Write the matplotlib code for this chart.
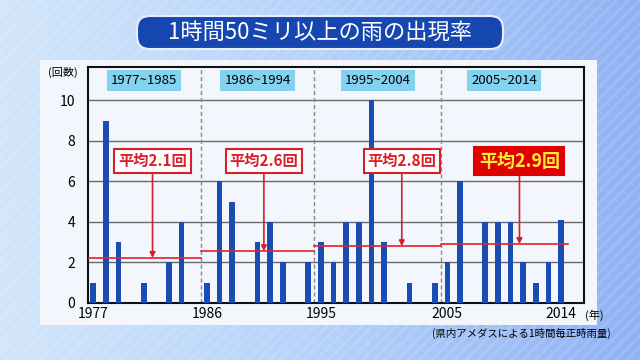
import numpy as np
import matplotlib
matplotlib.use('Agg')
import matplotlib.pyplot as plt
from matplotlib.patches import FancyBboxPatch, Rectangle

plt.rcParams['font.family'] = ['Noto Sans CJK JP', 'DejaVu Sans']

# data
years = list(range(1977, 2015))
counts = [1, 9, 3, 0, 1, 0, 2, 4, 0,        # 1977-1985
          1, 6, 5, 0, 3, 4, 2, 0, 2,        # 1986-1994
          3, 2, 4, 4, 10, 3, 0, 1, 0, 1,    # 1995-2004
          2, 6, 0, 4, 4, 4, 2, 1, 2, 4.1]   # 2005-2014
periods = [(1977, 1985), (1986, 1994), (1995, 2004), (2005, 2014)]
period_labels = ['1977~1985', '1986~1994', '1995~2004', '2005~2014']
avg_labels = ['平均2.1回', '平均2.6回', '平均2.8回', '平均2.9回']
xticks = [1977, 1986, 1995, 2005, 2014]
xticklabels = ['1977', '1986', '1995', '2005', '2014']

fig = plt.figure(figsize=(6.4, 3.6), dpi=100)

# background gradient with faint diagonal stripes
bg = fig.add_axes([0, 0, 1, 1])
grad = np.linspace(0, 1, 256).reshape(1, -1)
cmap = matplotlib.colors.LinearSegmentedColormap.from_list('bg', ['#d2e6fb', '#b5d2fa', '#8fb2f4'])
bg.imshow(grad, aspect='auto', cmap=cmap, extent=[0, 1, 0, 1])
for s in np.arange(-1, 2, 0.018):
    bg.plot([s, s + 0.56], [0, 1], color='white', alpha=0.12, lw=2)
bg.set_xlim(0, 1)
bg.set_ylim(0, 1)
bg.set_axis_off()
bg.add_patch(Rectangle((40 / 640, 1 - 325 / 360), 557 / 640, 265 / 360,
                       facecolor='#f3f6fc', edgecolor='none', transform=bg.transAxes, zorder=5))

ax = fig.add_axes([88 / 640, 1 - 303 / 360, 496 / 640, 236 / 360])
ax.set_facecolor('#f3f6fc')
ax.bar(years, counts, width=0.45, color='#1a4db3', zorder=3)
ax.set_xlim(1976.6, 2015.8)
ax.set_ylim(0, 11.65)
ax.set_yticks([0, 2, 4, 6, 8, 10])
ax.set_yticklabels(['0', '2', '4', '6', '8', '10'], fontsize=10)
ax.yaxis.grid(True, color='#6a6a6a', linewidth=1, zorder=1)
ax.tick_params(axis='y', length=0, pad=9)
ax.set_xticks(xticks)
ax.set_xticklabels(xticklabels, fontsize=10)
ax.tick_params(axis='x', length=0, pad=3)
for sp in ax.spines.values():
    sp.set_color('#111111')
    sp.set_linewidth(1.5)

for i, (a, b) in enumerate(periods):
    vals = [c for y, c in zip(years, counts) if a <= y <= b]
    m = np.mean(vals)
    ax.plot([a - 0.5, b + 0.5], [m, m], color='#e3202a', lw=1.2, zorder=4)
    if i > 0:
        ax.axvline(a - 0.5, color='#888888', lw=1, ls=(0, (3, 2)), zorder=2)
    ax.text((a + b) / 2, 11.0, period_labels[i], ha='center', va='center', fontsize=9.5,
            bbox=dict(boxstyle='square,pad=0.3', facecolor='#82d2f0', edgecolor='none'), zorder=5)

arrow_x = [1981.7, 1990.5, 2001.4, 2010.7]
for i, (a, b) in enumerate(periods):
    vals = [c for y, c in zip(years, counts) if a <= y <= b]
    m = np.mean(vals)
    if i < 3:
        style = dict(color='#d81e28', fontsize=11, fontweight='bold',
                     bbox=dict(boxstyle='square,pad=0.25', facecolor='white', edgecolor='#d81e28', lw=1.5))
    else:
        style = dict(color='#ffee33', fontsize=13, fontweight='bold',
                     bbox=dict(boxstyle='square,pad=0.25', facecolor='#e00000', edgecolor='#e00000', lw=1.5))
    ax.annotate(avg_labels[i], xy=(arrow_x[i], m), xytext=(arrow_x[i], 7.0),
                ha='center', va='center', zorder=6,
                arrowprops=dict(arrowstyle='-|>', color='#d81e28', lw=1.2, mutation_scale=8,
                                shrinkA=0, shrinkB=0), **style)

fig.text(48 / 640, 1 - 72 / 360, '(回数)', fontsize=8, ha='left', va='center')
fig.text(585 / 640, 1 - 315 / 360, '(年)', fontsize=8, ha='left', va='center')
fig.text(611 / 640, 1 - 333 / 360, '(県内アメダスによる1時間毎正時雨量)', fontsize=7.5,
         ha='right', va='center')

# title
bg.add_patch(FancyBboxPatch((137 / 640, 1 - 49 / 360), 366 / 640, 33 / 360,
                            boxstyle='round,pad=0,rounding_size=0.02', facecolor='#1646b0',
                            edgecolor='#e8eefc', lw=1.5, transform=bg.transAxes, mutation_aspect=1.8,
                            zorder=5))
fig.text(320 / 640, 1 - 32 / 360, '1時間50ミリ以上の雨の出現率', fontsize=16, color='white',
         ha='center', va='center')

fig.savefig('out.png', dpi=100)
